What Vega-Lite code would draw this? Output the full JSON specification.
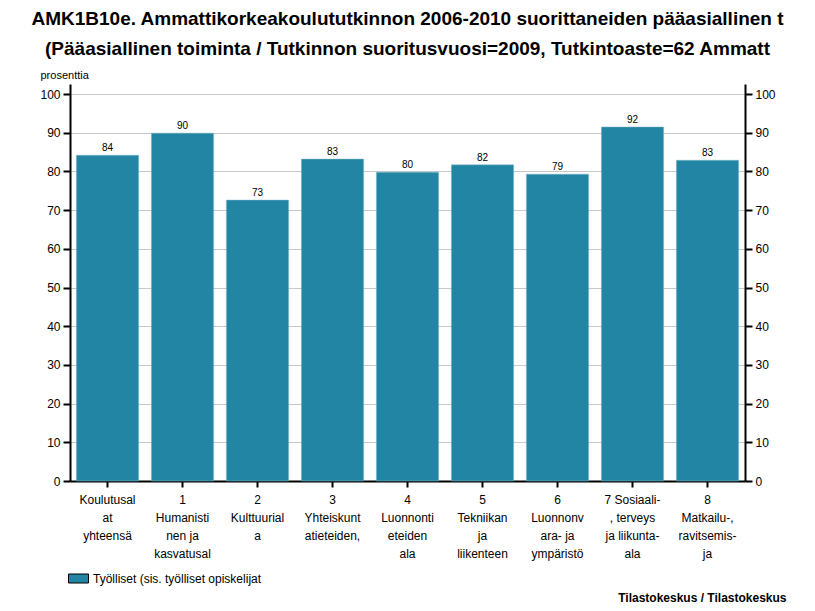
{
  "$schema": "https://vega.github.io/schema/vega-lite/v6.json",
  "width": 675,
  "height": 397,
  "autosize": {"type": "none"},
  "padding": {"left": 70, "top": 84, "right": 70, "bottom": 130},
  "background": "white",
  "title": {
    "text": ["AMK1B10e. Ammattikorkeakoulututkinnon 2006-2010 suorittaneiden pääasiallinen t", "(Pääasiallinen toiminta / Tutkinnon suoritusvuosi=2009, Tutkintoaste=62 Ammatt"],
    "font": "Liberation Sans",
    "fontSize": 19,
    "fontWeight": "bold",
    "color": "black",
    "lineHeight": 30,
    "anchor": "middle",
    "frame": "group",
    "offset": 10
  },
  "config": {
    "view": {"stroke": null},
    "font": "Liberation Sans",
    "axis": {"labelFont": "Liberation Sans", "labelFontSize": 12, "labelColor": "black", "titleFont": "Liberation Sans"}
  },
  "data": {
    "values": [
      {"cat": "Koulutusal|at|yhteensä", "value": 84.2, "series": "Työlliset (sis. työlliset opiskelijat"},
      {"cat": "1|Humanisti|nen ja|kasvatusal", "value": 89.9, "series": "Työlliset (sis. työlliset opiskelijat"},
      {"cat": "2|Kulttuurial|a", "value": 72.6, "series": "Työlliset (sis. työlliset opiskelijat"},
      {"cat": "3|Yhteiskunt|atieteiden,", "value": 83.2, "series": "Työlliset (sis. työlliset opiskelijat"},
      {"cat": "4|Luonnonti|eteiden|ala", "value": 79.8, "series": "Työlliset (sis. työlliset opiskelijat"},
      {"cat": "5|Tekniikan|ja|liikenteen", "value": 81.7, "series": "Työlliset (sis. työlliset opiskelijat"},
      {"cat": "6|Luonnonv|ara- ja|ympäristö", "value": 79.3, "series": "Työlliset (sis. työlliset opiskelijat"},
      {"cat": "7 Sosiaali-|, terveys|ja liikunta-|ala", "value": 91.5, "series": "Työlliset (sis. työlliset opiskelijat"},
      {"cat": "8|Matkailu-,|ravitsemis-|ja", "value": 82.9, "series": "Työlliset (sis. työlliset opiskelijat"}
    ]
  },
  "encoding": {
    "x": {
      "field": "cat",
      "type": "nominal",
      "sort": null,
      "scale": {"paddingInner": 0.17, "paddingOuter": 0.085},
      "axis": {
        "labelExpr": "split(datum.value, '|')",
        "labelAngle": 0,
        "labelLineHeight": 18,
        "labelPadding": 7,
        "labelBaseline": "top",
        "tickSize": 6,
        "tickColor": "black",
        "tickWidth": 2,
        "domainColor": "black",
        "domainWidth": 2,
        "title": "Tilastokeskus / Tilastokeskus",
        "titleFontSize": 12,
        "titleFontWeight": "bold",
        "titleColor": "black",
        "titleAnchor": "end",
        "titleAlign": "right",
        "titleBaseline": "alphabetic",
        "titleX": 716,
        "titleY": 120
      }
    }
  },
  "layer": [
    {
      "mark": {"type": "bar", "stroke": "#7fb8cc", "strokeWidth": 0.5},
      "encoding": {
        "y": {
          "field": "value",
          "type": "quantitative",
          "scale": {"domain": [0, 102.6], "nice": false},
          "axis": {
            "orient": "left",
            "values": [0, 10, 20, 30, 40, 50, 60, 70, 80, 90, 100],
            "grid": true,
            "gridColor": "#c8c8c8",
            "gridWidth": 1,
            "tickSize": 7,
            "tickColor": "black",
            "tickWidth": 2,
            "domainColor": "black",
            "domainWidth": 2,
            "labelPadding": 3,
            "title": "prosenttia",
            "titleFontSize": 11,
            "titleFontWeight": "normal",
            "titleColor": "black",
            "titleAngle": 0,
            "titleAlign": "left",
            "titleBaseline": "alphabetic",
            "titleX": -30,
            "titleY": -6
          }
        },
        "color": {
          "field": "series",
          "type": "nominal",
          "scale": {"range": ["#2385a4"]},
          "legend": {
            "title": null,
            "orient": "none",
            "legendX": -2,
            "legendY": 484,
            "symbolType": "M-1,-0.45H1V0.45H-1Z",
            "symbolSize": 400,
            "symbolStrokeColor": "black",
            "symbolStrokeWidth": 1,
            "symbolOpacity": 1,
            "labelFontSize": 12,
            "labelLimit": 400,
            "labelFont": "Liberation Sans",
            "labelColor": "black"
          }
        }
      }
    },
    {
      "mark": {"type": "text", "dy": -7, "fontSize": 10, "font": "Liberation Sans", "color": "black"},
      "encoding": {
        "y": {
          "field": "value",
          "type": "quantitative",
          "scale": {"domain": [0, 102.6], "nice": false},
          "axis": {
            "orient": "right",
            "values": [0, 10, 20, 30, 40, 50, 60, 70, 80, 90, 100],
            "grid": false,
            "tickSize": 7,
            "tickColor": "black",
            "tickWidth": 2,
            "domainColor": "black",
            "domainWidth": 2,
            "labelPadding": 3,
            "title": null
          }
        },
        "text": {"field": "value", "type": "quantitative", "format": ".0f"}
      }
    }
  ],
  "resolve": {"axis": {"y": "independent"}}
}
